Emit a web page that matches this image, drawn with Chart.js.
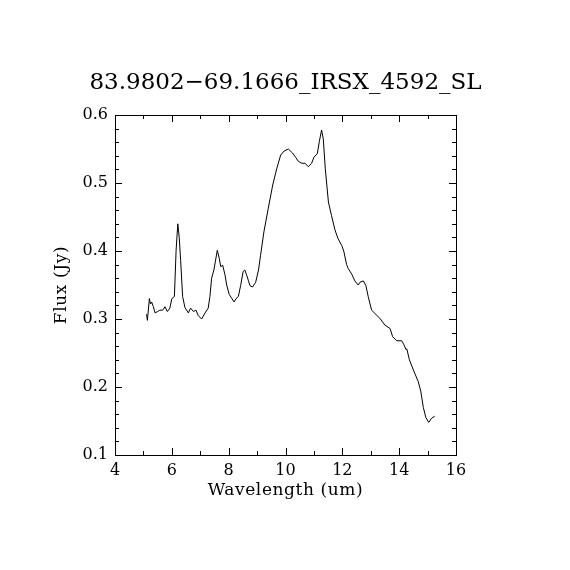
<!DOCTYPE html>
<html>
<head>
<meta charset="utf-8">
<script src="https://cdn.jsdelivr.net/npm/chart.js@4/dist/chart.umd.min.js"></script>
<style>
  html, body { margin: 0; padding: 0; background: #fff; }
  #wrap { width: 570px; height: 570px; }
</style>
</head>
<body>
<div id="wrap"><canvas id="spec" width="570" height="570"></canvas></div>
<script>
// spectrum
const wavelength = [
  5.11, 5.14, 5.21, 5.25, 5.29, 5.35, 5.41, 5.50, 5.58, 5.68, 5.76, 5.84, 5.93,
  6.00, 6.09, 6.15, 6.21, 6.26, 6.31, 6.38, 6.46, 6.58, 6.66, 6.76, 6.85, 6.93,
  7.05, 7.17, 7.28, 7.34, 7.40, 7.48, 7.53, 7.60, 7.67, 7.72, 7.79, 7.87, 7.93,
  8.02, 8.10, 8.19, 8.26, 8.34, 8.42, 8.51, 8.57, 8.63, 8.69, 8.75, 8.84, 8.95,
  9.05, 9.12, 9.24, 9.39, 9.55, 9.69, 9.83, 9.95, 10.10, 10.25, 10.37, 10.45,
  10.57, 10.69, 10.80, 10.92, 11.00, 11.12, 11.19, 11.27, 11.33, 11.40, 11.51,
  11.62, 11.74, 11.85, 11.98, 12.05, 12.15, 12.21, 12.33, 12.44, 12.56, 12.62,
  12.74, 12.83, 12.91, 13.03, 13.15, 13.32, 13.50, 13.68, 13.77, 13.91, 14.09,
  14.17, 14.24, 14.27, 14.36, 14.50, 14.67, 14.76, 14.85, 14.94, 15.04, 15.14, 15.25
];
const flux = [
  0.307, 0.298, 0.330, 0.322, 0.325, 0.318, 0.309, 0.311, 0.313, 0.313, 0.318, 0.311, 0.316,
  0.330, 0.333, 0.401, 0.440, 0.420, 0.386, 0.333, 0.317, 0.309, 0.316, 0.311, 0.313, 0.305,
  0.300, 0.309, 0.316, 0.333, 0.360, 0.372, 0.384, 0.401, 0.389, 0.377, 0.379, 0.365, 0.350,
  0.336, 0.331, 0.325, 0.330, 0.333, 0.349, 0.370, 0.372, 0.365, 0.357, 0.349, 0.347, 0.354,
  0.372, 0.393, 0.428, 0.462, 0.497, 0.521, 0.541, 0.547, 0.550, 0.544, 0.537, 0.532,
  0.529, 0.529, 0.524, 0.529, 0.538, 0.543, 0.561, 0.578, 0.565, 0.521, 0.472,
  0.452, 0.431, 0.418, 0.408, 0.400, 0.380, 0.374, 0.366, 0.356, 0.350, 0.354,
  0.356, 0.349, 0.333, 0.313, 0.308, 0.301, 0.291, 0.286, 0.274, 0.268, 0.268,
  0.262, 0.255, 0.256, 0.240, 0.225, 0.208, 0.194, 0.170, 0.155, 0.148, 0.154, 0.157
];

const xTicks = [4, 6, 8, 10, 12, 14, 16];
const xMinor = [5, 7, 9, 11, 13, 15];
const yTicks = [0.1, 0.2, 0.3, 0.4, 0.5, 0.6];
const yMinor = [0.12, 0.14, 0.16, 0.18, 0.22, 0.24, 0.26, 0.28, 0.32, 0.34, 0.36, 0.38,
  0.42, 0.44, 0.46, 0.48, 0.52, 0.54, 0.56, 0.58];

const titleText = "83.9802\u221269.1666_IRSX_4592_SL";
const xLabel = "Wavelength (um)";
const yLabel = "Flux (Jy)";

const FONT = "'DejaVu Serif', 'Liberation Serif', serif";

// frame, inward ticks on all sides, titles
const framePlugin = {
  id: "frame",
  afterDraw(chart) {
    const { ctx, chartArea: a, scales } = chart;
    const xs = scales.x, ys = scales.y;
    ctx.save();
    ctx.strokeStyle = "#000";
    ctx.lineWidth = 1;
    ctx.strokeRect(a.left + 0.5, a.top + 0.5, a.right - a.left, a.bottom - a.top);

    ctx.beginPath();
    const xt = (v, len) => {
      const p = Math.round(xs.getPixelForValue(v)) + 0.5;
      ctx.moveTo(p, a.bottom); ctx.lineTo(p, a.bottom - len);
      ctx.moveTo(p, a.top); ctx.lineTo(p, a.top + len);
    };
    const yt = (v, len) => {
      const p = Math.round(ys.getPixelForValue(v)) + 0.5;
      ctx.moveTo(a.left, p); ctx.lineTo(a.left + len, p);
      ctx.moveTo(a.right, p); ctx.lineTo(a.right - len, p);
    };
    xTicks.forEach(v => xt(v, 7));
    xMinor.forEach(v => xt(v, 4));
    yTicks.forEach(v => yt(v, 7));
    yMinor.forEach(v => yt(v, 4));
    ctx.stroke();

    ctx.fillStyle = "#000";
    ctx.textAlign = "center";
    ctx.textBaseline = "middle";
    ctx.font = "23px " + FONT;
    ctx.fillText(titleText, (a.left + a.right) / 2, 83);

    ctx.font = "17px " + FONT;
    ctx.letterSpacing = "0.6px";
    ctx.fillText(xLabel, (a.left + a.right) / 2, 491);

    ctx.translate(62, (a.top + a.bottom) / 2);
    ctx.rotate(-Math.PI / 2);
    ctx.fillText(yLabel, 0, 0);
    ctx.restore();
  }
};

const ctx = document.getElementById("spec").getContext("2d");
new Chart(ctx, {
  type: "scatter",
  data: {
    datasets: [{
      data: wavelength.map((w, i) => ({ x: w, y: flux[i] })),
      showLine: true,
      borderColor: "#000",
      borderWidth: 1,
      pointRadius: 0,
      tension: 0
    }]
  },
  options: {
    responsive: false,
    animation: false,
    layout: { padding: { left: 0, top: 115, right: 114, bottom: 0 } },
    plugins: { legend: { display: false }, tooltip: { enabled: false } },
    scales: {
      x: {
        type: "linear",
        min: 4, max: 16,
        afterFit: s => { s.height = 115; },
        afterBuildTicks: s => { s.ticks = xTicks.map(v => ({ value: v })); },
        grid: { display: false, drawTicks: false },
        border: { display: false },
        ticks: {
          color: "#000",
          padding: 6,
          font: { family: FONT, size: 16 },
          callback: v => String(v),
          maxRotation: 0
        }
      },
      y: {
        type: "linear",
        min: 0.1, max: 0.6,
        afterFit: s => { s.width = 115; },
        afterBuildTicks: s => { s.ticks = yTicks.map(v => ({ value: v })); },
        grid: { display: false, drawTicks: false },
        border: { display: false },
        ticks: {
          color: "#000",
          padding: 7,
          font: { family: FONT, size: 16 },
          callback: v => v.toFixed(1)
        }
      }
    }
  },
  plugins: [framePlugin]
});
</script>
</body>
</html>
